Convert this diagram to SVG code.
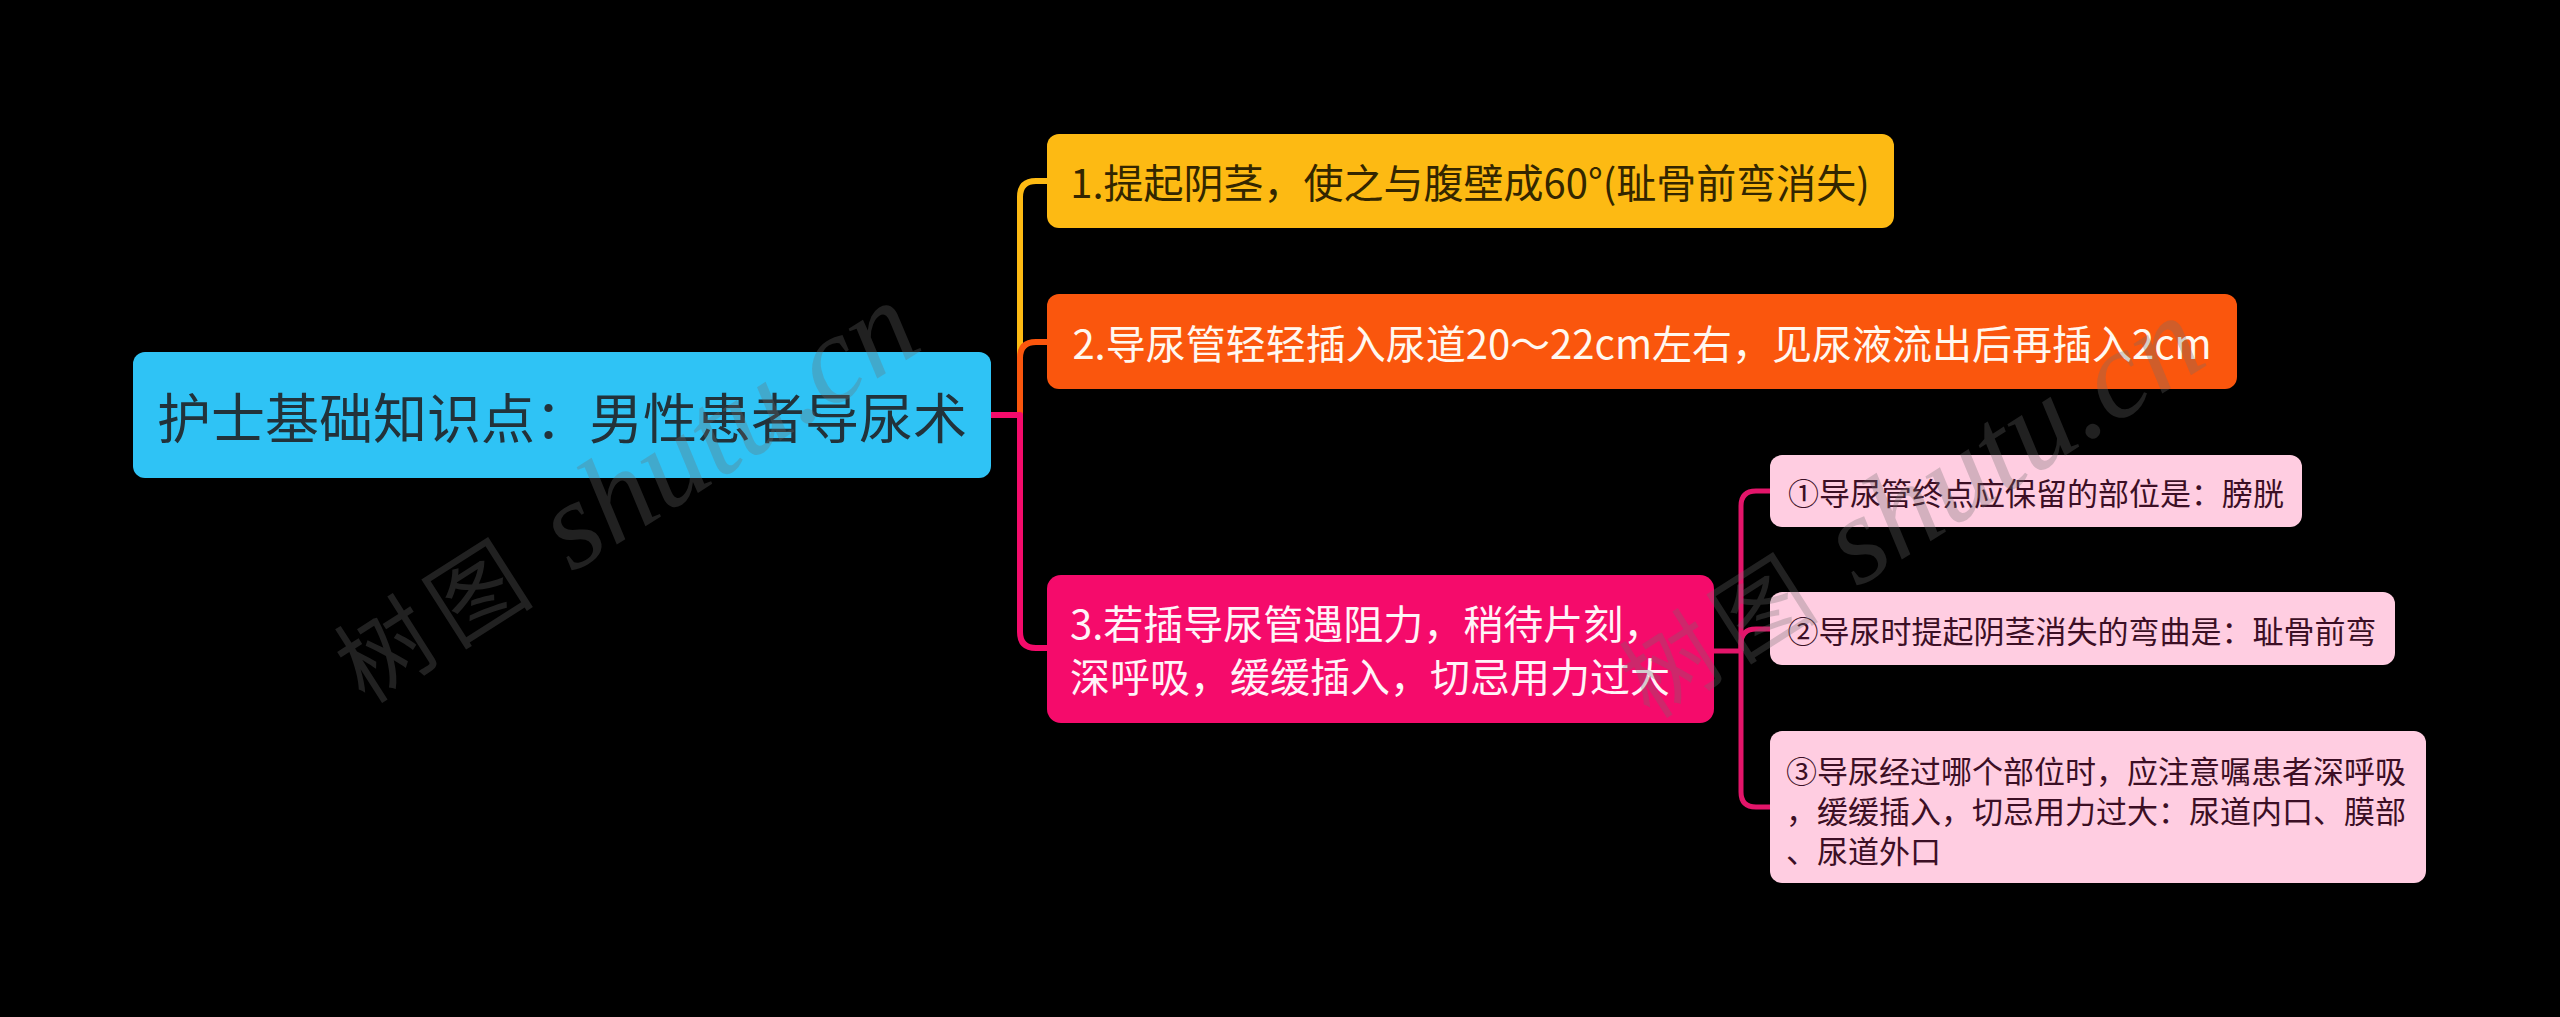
<svg xmlns="http://www.w3.org/2000/svg" width="2560" height="1017" viewBox="0 0 2560 1017">
<style>
.cjk{font-family:"Microsoft YaHei","Noto Sans CJK SC","Noto Sans",sans-serif;}
.root-t{font-size:54px;fill:#22323a;}
.l1-t{font-size:40px;}
.sub-r{fill:#ffcde1;}
.sub-t{font-size:31px;fill:#3c0f25;}
.conn{fill:none;stroke-linecap:butt;stroke-linejoin:round;}
.wm{font-family:"Liberation Serif","Noto Sans CJK SC",serif;fill:#6e6e6e;fill-opacity:0.3;}
</style>
<rect width="2560" height="1017" fill="#000000"/>
<g id="connectors">
  <path class="conn" d="M1020,415 V197 Q1020,181 1036,181 H1048" stroke="#fdba13" stroke-width="6"/>
  <path class="conn" d="M1020,415 V358 Q1020,342 1036,342 H1048" stroke="#fa560d" stroke-width="6"/>
  <path class="conn" d="M990,415 H1020 V632 Q1020,648 1036,648 H1048" stroke="#f50b6b" stroke-width="6"/>
  <path class="conn" d="M1713,651 H1741" stroke="#e3156a" stroke-width="5"/>
  <path class="conn" d="M1741,651 V506 Q1741,491 1756,491 H1771" stroke="#e3156a" stroke-width="5"/>
  <path class="conn" d="M1741,651 V644 Q1741,629 1756,629 H1771" stroke="#e3156a" stroke-width="5"/>
  <path class="conn" d="M1741,651 V792 Q1741,807 1756,807 H1771" stroke="#e3156a" stroke-width="5"/>
</g>
<g id="root">
  <rect x="133" y="352" width="858" height="126" rx="12" fill="#2fc3f5"/>
  <text class="cjk root-t" x="562" y="415" text-anchor="middle" dominant-baseline="central">护士基础知识点：男性患者导尿术</text>
</g>
<g id="node1">
  <rect x="1047" y="134" width="847" height="94" rx="12" fill="#fdba13"/>
  <text class="cjk l1-t" x="1470" y="181" text-anchor="middle" dominant-baseline="central" fill="#332600">1.提起阴茎，使之与腹壁成60°(耻骨前弯消失)</text>
</g>
<g id="node2">
  <rect x="1047" y="294" width="1190" height="95" rx="12" fill="#fa560d"/>
  <text class="cjk l1-t" x="1642" y="342" text-anchor="middle" dominant-baseline="central" fill="#fff8f0">2.导尿管轻轻插入尿道20～22cm左右，见尿液流出后再插入2cm</text>
</g>
<g id="node3">
  <rect x="1047" y="575" width="667" height="148" rx="14" fill="#f50b6b"/>
  <text class="cjk l1-t" fill="#fff4f8" dominant-baseline="central">
    <tspan x="1070" y="622">3.若插导尿管遇阻力，稍待片刻，</tspan>
    <tspan x="1070" y="675">深呼吸，缓缓插入，切忌用力过大</tspan>
  </text>
</g>
<g id="sub1">
  <rect class="sub-r" x="1770" y="455" width="532" height="72" rx="12"/>
  <text class="cjk sub-t" x="2036" y="491" text-anchor="middle" dominant-baseline="central">①导尿管终点应保留的部位是：膀胱</text>
</g>
<g id="sub2">
  <rect class="sub-r" x="1770" y="592" width="625" height="73" rx="12"/>
  <text class="cjk sub-t" x="2082" y="629" text-anchor="middle" dominant-baseline="central">②导尿时提起阴茎消失的弯曲是：耻骨前弯</text>
</g>
<g id="sub3">
  <rect class="sub-r" x="1770" y="731" width="656" height="152" rx="12"/>
  <text class="cjk sub-t" dominant-baseline="central">
    <tspan x="1786" y="769">③导尿经过哪个部位时，应注意嘱患者深呼吸</tspan>
    <tspan x="1786" y="809">，缓缓插入，切忌用力过大：尿道内口、膜部</tspan>
    <tspan x="1786" y="849">、尿道外口</tspan>
  </text>
</g>
<g id="watermarks">
  <text class="wm" transform="translate(365,705) rotate(-32.5)"><tspan font-size="95" letter-spacing="12">树图</tspan><tspan font-size="125" font-style="italic"> shutu.cn</tspan></text>
  <text class="wm" transform="translate(1650,720) rotate(-32.5)"><tspan font-size="95" letter-spacing="12">树图</tspan><tspan font-size="125" font-style="italic"> shutu.cn</tspan></text>
</g>
</svg>
